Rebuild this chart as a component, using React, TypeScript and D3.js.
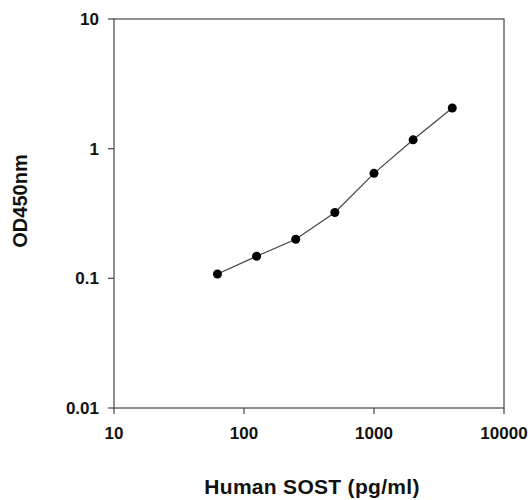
import * as d3 from 'd3';

const CONC = [62.5, 125, 250, 500, 1000, 2000, 4000];
const OD = [0.108, 0.148, 0.2, 0.322, 0.645, 1.17, 2.06];

const X_TICKS = [10, 100, 1000, 10000];
const Y_TICKS = [0.01, 0.1, 1, 10];

const WIDTH = 531;
const HEIGHT = 500;
const MARGIN = { top: 19, right: 27, bottom: 92, left: 114 };

const FONT = '"Liberation Sans", Arial, Helvetica, sans-serif';
const AXIS_COLOR = '#444';

export default function App() {
  const innerW = WIDTH - MARGIN.left - MARGIN.right;
  const innerH = HEIGHT - MARGIN.top - MARGIN.bottom;

  const x = d3.scaleLog().domain([10, 10000]).range([0, innerW]);
  const y = d3.scaleLog().domain([0.01, 10]).range([innerH, 0]);

  const points = CONC.map((c, i) => ({ c, od: OD[i] }));
  const line = d3
    .line<{ c: number; od: number }>()
    .x((d) => x(d.c))
    .y((d) => y(d.od));

  const tickFmt = (v: number) => String(v);

  return (
    <svg
      width={WIDTH}
      height={HEIGHT}
      style={{ position: 'absolute', left: 0, top: 0, background: '#fff', fontFamily: FONT }}
    >
      <g transform={`translate(${MARGIN.left},${MARGIN.top})`}>
        {/* frame */}
        <rect x={0} y={0} width={innerW} height={innerH} fill="none" stroke={AXIS_COLOR} strokeWidth={1.2} />

        {/* x ticks */}
        {X_TICKS.map((t) => (
          <g key={`x${t}`} transform={`translate(${x(t)},${innerH})`}>
            <line y1={0} y2={6} stroke={AXIS_COLOR} strokeWidth={1.2} />
            <text y={31} textAnchor="middle" fontSize={17} fontWeight="bold" fill="#111">
              {tickFmt(t)}
            </text>
          </g>
        ))}

        {/* y ticks */}
        {Y_TICKS.map((t) => (
          <g key={`y${t}`} transform={`translate(0,${y(t)})`}>
            <line x1={0} x2={-6} stroke={AXIS_COLOR} strokeWidth={1.2} />
            <text x={-15} dy="0.36em" textAnchor="end" fontSize={17} fontWeight="bold" fill="#111">
              {tickFmt(t)}
            </text>
          </g>
        ))}

        {/* curve */}
        <path d={line(points) ?? ''} fill="none" stroke="#444" strokeWidth={1.2} />
        {points.map((p) => (
          <circle key={p.c} cx={x(p.c)} cy={y(p.od)} r={4.5} fill="#000" />
        ))}
      </g>

      {/* axis titles */}
      <text
        x={312}
        y={494}
        textAnchor="middle"
        fontSize={21}
        fontWeight="bold"
        letterSpacing={0.3}
        fill="#111"
      >
        Human SOST (pg/ml)
      </text>
      <text
        transform="translate(27,201) rotate(-90)"
        textAnchor="middle"
        fontSize={20}
        fontWeight="bold"
        fill="#111"
      >
        OD450nm
      </text>
    </svg>
  );
}
